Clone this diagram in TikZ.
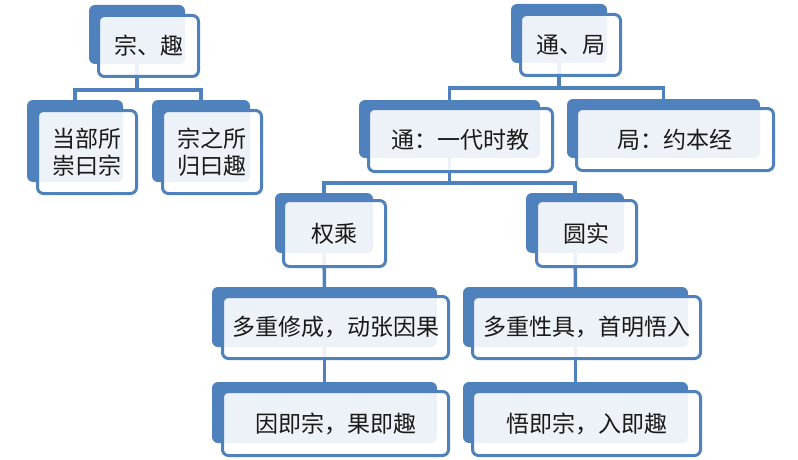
\documentclass[tikz,border=0pt]{standalone}
\usepackage{fontspec}
\newfontfamily\cjk{Noto Sans CJK SC}
\definecolor{ofblue}{HTML}{4F81BD}
\definecolor{txt}{HTML}{1A1A1A}
\tikzset{
  backbox/.style={rectangle, rounded corners=6pt, fill=ofblue, draw=none, outer sep=0pt, inner sep=0pt},
  frontbox/.style={rectangle, rounded corners=6pt, draw=ofblue, line width=3pt, fill=white, fill opacity=0.9, text opacity=1, outer sep=0pt, inner sep=0pt, text=txt, align=center, font=\cjk\fontsize{23}{27}\selectfont},
  conn/.style={draw=ofblue, line width=3.5pt}
}
\begin{document}
\begin{tikzpicture}[x=1pt,y=-1pt]
\useasboundingbox[fill=white] (0,0) rectangle (798,460);
% back boxes
\node[backbox, minimum width=96pt, minimum height=59pt] (Ab) at (137,34.5) {};
\node[backbox, minimum width=96pt, minimum height=59pt] (Bb) at (559,33.5) {};
\node[backbox, minimum width=96pt, minimum height=82pt] (Cb) at (75,141) {};
\node[backbox, minimum width=98pt, minimum height=82pt] (Db) at (201,141) {};
\node[backbox, minimum width=181pt, minimum height=58pt] (Eb) at (449.5,129) {};
\node[backbox, minimum width=193pt, minimum height=59pt] (Fb) at (663.5,128.5) {};
\node[backbox, minimum width=98pt, minimum height=60pt] (Gb) at (324,223) {};
\node[backbox, minimum width=98pt, minimum height=60pt] (Hb) at (575,223) {};
\node[backbox, minimum width=225pt, minimum height=60pt] (Ib) at (324.5,317) {};
\node[backbox, minimum width=225pt, minimum height=61pt] (Jb) at (324.5,412.5) {};
\node[backbox, minimum width=225pt, minimum height=60pt] (Kb) at (575.5,317) {};
\node[backbox, minimum width=225pt, minimum height=61pt] (Lb) at (575.5,412.5) {};
% connectors
\path (Ab.south) ++(0,26) coordinate (Aj);
\draw[conn] (Ab.south) -- (Aj) -| (Cb.north);
\draw[conn] (Aj) -| (Db.north);
\path (Bb.south) ++(0,25) coordinate (Bj);
\draw[conn] (Bb.south) -- (Bj) -| (Eb.north);
\draw[conn] (Bj) -| (Fb.north);
\path (Eb.south) ++(0,25) coordinate (Ej);
\draw[conn] (Eb.south) -- (Ej) -| (Gb.north);
\draw[conn] (Ej) -| (Hb.north);
\draw[conn] (Gb.south) -- (Ib.north);
\draw[conn] (Ib.south) -- (Jb.north);
\draw[conn] (Hb.south) -- (Kb.north);
\draw[conn] (Kb.south) -- (Lb.north);
% front boxes
\node[frontbox, minimum width=100pt, minimum height=61pt] (A) at (148.5,46) {宗、趣};
\node[frontbox, minimum width=100pt, minimum height=61pt] (B) at (570.5,45) {通、局};
\node[frontbox, minimum width=99pt, minimum height=83pt] (C) at (87,152) {当部所\\崇曰宗};
\node[frontbox, minimum width=99pt, minimum height=83pt] (D) at (212,152) {宗之所\\归曰趣};
\node[frontbox, minimum width=184pt, minimum height=63pt] (E) at (460.5,140) {通：一代时教};
\node[frontbox, minimum width=197pt, minimum height=62pt] (F) at (675,139.5) {局：约本经};
\node[frontbox, minimum width=102pt, minimum height=66pt] (G) at (334.5,233.5) {权乘};
\node[frontbox, minimum width=100pt, minimum height=66pt] (H) at (586.5,233.5) {圆实};
\node[frontbox, minimum width=226pt, minimum height=62pt] (I) at (335.5,327.5) {多重修成，动张因果};
\node[frontbox, minimum width=226pt, minimum height=64pt] (J) at (335.5,423.5) {因即宗，果即趣};
\node[frontbox, minimum width=228pt, minimum height=62pt] (K) at (586.5,327.5) {多重性具，首明悟入};
\node[frontbox, minimum width=228pt, minimum height=64pt] (L) at (586.5,423.5) {悟即宗，入即趣};
\end{tikzpicture}
\end{document}
